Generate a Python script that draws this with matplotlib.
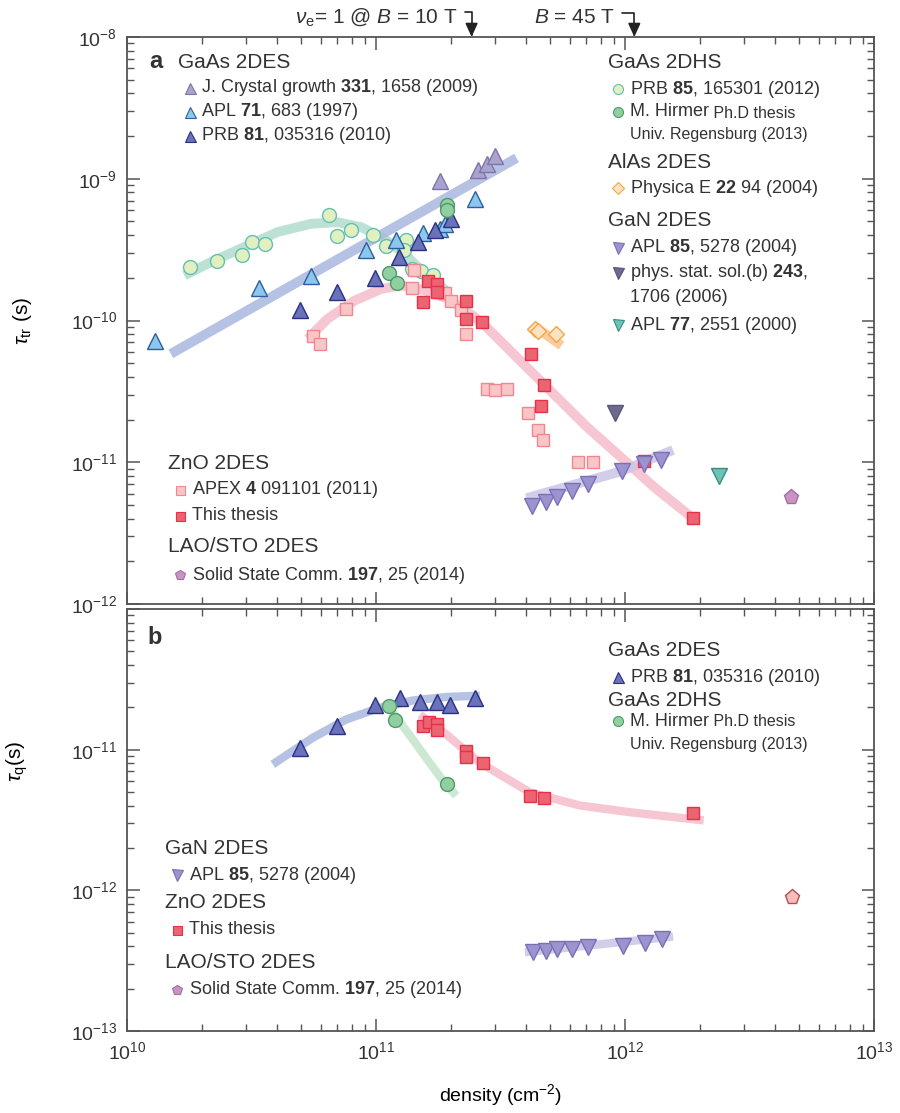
import numpy as np
import matplotlib
matplotlib.use("Agg")
import matplotlib.pyplot as plt
from matplotlib.ticker import LogLocator, NullFormatter

# --- Data (density in cm^-2, lifetime in s) ---
# panel a: transport lifetime tau_tr
GAAS_JCG_N = [1.80e11, 2.57e11, 2.78e11, 3.00e11]
GAAS_JCG_TAU = [9.63e-10, 1.16e-9, 1.28e-9, 1.44e-9]

GAAS_APL71_N = [1.30e10, 3.38e10, 5.48e10, 9.12e10, 1.20e11, 1.54e11, 1.80e11, 1.89e11, 2.49e11]
GAAS_APL71_TAU = [7.22e-11, 1.70e-10, 2.05e-10, 3.15e-10, 3.71e-10, 4.13e-10, 4.44e-10, 4.77e-10, 7.22e-10]

GAAS_PRB81_N = [4.97e10, 6.98e10, 9.95e10, 1.24e11, 1.47e11, 1.73e11, 2.00e11]
GAAS_PRB81_TAU = [1.19e-10, 1.585e-10, 2.0e-10, 2.8e-10, 3.57e-10, 4.32e-10, 5.22e-10]

GAAS_BAND_N = [1.50e10, 3.67e11]
GAAS_BAND_TAU = [5.82e-11, 1.40e-9]

HOLE_PRB85_N = [1.79e10, 2.30e10, 2.90e10, 3.19e10, 3.58e10, 6.50e10, 6.98e10, 7.94e10,
                9.70e10, 1.10e11, 1.32e11, 1.30e11, 1.39e11, 1.51e11, 1.69e11]
HOLE_PRB85_TAU = [2.38e-10, 2.65e-10, 2.91e-10, 3.57e-10, 3.48e-10, 5.51e-10, 3.92e-10, 4.32e-10,
                  3.98e-10, 3.38e-10, 3.71e-10, 3.15e-10, 2.29e-10, 2.23e-10, 2.11e-10]
HOLE_BAND_N = [1.70e10, 2.17e10, 2.96e10, 4.03e10, 5.48e10, 7.01e10, 8.71e10, 1.08e11, 1.30e11, 1.57e11, 1.91e11]
HOLE_BAND_TAU = [2.08e-10, 2.58e-10, 3.30e-10, 4.21e-10, 4.81e-10, 4.94e-10, 4.56e-10, 3.77e-10, 2.96e-10, 2.13e-10, 1.63e-10]

HIRMER_N = [1.13e11, 1.21e11, 1.93e11, 1.93e11]
HIRMER_TAU = [2.17e-10, 1.85e-10, 6.55e-10, 6.04e-10]

ALAS_N = [4.37e11, 4.48e11, 5.26e11]
ALAS_TAU = [8.71e-11, 8.41e-11, 7.98e-11]
ALAS_BAND_N = [4.28e11, 5.56e11]
ALAS_BAND_TAU = [9.23e-11, 6.67e-11]

GAN_N = [4.25e11, 4.81e11, 5.34e11, 6.14e11, 7.11e11, 9.75e11, 1.19e12, 1.39e12]
GAN_TAU = [4.89e-12, 5.21e-12, 5.68e-12, 6.22e-12, 7.05e-12, 8.70e-12, 9.73e-12, 1.04e-11]
GAN_BAND_N = [4.02e11, 9.55e11, 1.56e12]
GAN_BAND_TAU = [5.58e-12, 8.59e-12, 1.22e-11]

GAN_PSS_N = [9.12e11]
GAN_PSS_TAU = [2.23e-11]
GAN_APL77_N = [2.39e12]
GAN_APL77_TAU = [8.0e-12]

ZNO_APEX_N = [5.57e10, 5.98e10, 7.59e10, 1.42e11, 1.39e11, 1.89e11, 2.00e11, 2.19e11, 2.29e11,
              2.80e11, 3.00e11, 3.37e11, 4.08e11, 4.48e11, 4.69e11, 6.49e11, 7.46e11]
ZNO_APEX_TAU = [7.75e-11, 6.84e-11, 1.197e-10, 2.28e-10, 1.70e-10, 1.56e-10, 1.38e-10, 1.19e-10, 8.05e-11,
                3.30e-11, 3.24e-11, 3.30e-11, 2.23e-11, 1.69e-11, 1.435e-11, 9.96e-12, 9.96e-12]
ZNO_THESIS_N = [1.62e11, 1.75e11, 1.75e11, 1.54e11, 2.29e11, 2.29e11, 2.67e11, 4.18e11, 4.72e11, 4.58e11, 1.19e12, 1.88e12]
ZNO_THESIS_TAU = [1.915e-10, 1.815e-10, 1.585e-10, 1.347e-10, 1.369e-10, 1.028e-10, 9.73e-11, 5.83e-11,
                  3.53e-11, 2.50e-11, 1.02e-11, 4.05e-12]
ZNO_BAND_N = [5.32e10, 6.40e10, 8.19e10, 1.05e11, 1.26e11, 1.57e11, 1.95e11, 2.49e11, 2.78e11,
              3.78e11, 5.15e11, 7.02e11, 9.55e11, 1.30e12, 1.94e12]
ZNO_BAND_TAU = [7.43e-11, 1.03e-10, 1.38e-10, 1.67e-10, 1.77e-10, 1.63e-10, 1.42e-10, 1.06e-10, 8.97e-11,
                5.24e-11, 3.05e-11, 1.78e-11, 1.10e-11, 6.75e-12, 3.83e-12]

LAO_N = [4.66e12]
LAO_TAU = [5.67e-12]

# panel b: quantum lifetime tau_q
Q_PRB81_N = [4.97e10, 6.98e10, 9.93e10, 1.25e11, 1.50e11, 1.75e11, 1.98e11, 2.49e11]
Q_PRB81_TAU = [1.03e-11, 1.47e-11, 2.09e-11, 2.33e-11, 2.17e-11, 2.17e-11, 2.09e-11, 2.33e-11]
Q_PRB81_BAND_N = [3.85e10, 5.57e10, 7.59e10, 1.03e11, 1.41e11, 1.92e11, 2.61e11]
Q_PRB81_BAND_TAU = [7.87e-12, 1.215e-11, 1.64e-11, 1.98e-11, 2.24e-11, 2.37e-11, 2.42e-11]

Q_HIRMER_N = [1.13e11, 1.19e11, 1.93e11]
Q_HIRMER_TAU = [2.03e-11, 1.62e-11, 5.69e-12]
Q_HIRMER_BAND_N = [1.13e11, 1.36e11, 1.64e11, 1.86e11, 2.10e11]
Q_HIRMER_BAND_TAU = [1.98e-11, 1.28e-11, 8.1e-12, 6.0e-12, 4.71e-12]

Q_ZNO_N = [1.55e11, 1.64e11, 1.75e11, 1.75e11, 2.30e11, 2.30e11, 2.69e11, 4.17e11, 4.72e11, 1.88e12]
Q_ZNO_TAU = [1.48e-11, 1.57e-11, 1.53e-11, 1.37e-11, 9.8e-12, 8.93e-12, 8.09e-12, 4.71e-12, 4.51e-12, 3.55e-12]
Q_ZNO_BAND_N = [1.50e11, 1.92e11, 2.61e11, 4.15e11, 6.59e11, 1.05e12, 2.07e12]
Q_ZNO_BAND_TAU = [1.77e-11, 1.28e-11, 8.09e-12, 4.97e-12, 4.01e-12, 3.59e-12, 3.14e-12]

Q_GAN_N = [4.26e11, 4.81e11, 5.31e11, 6.11e11, 7.12e11, 9.79e11, 1.20e12, 1.41e12]
Q_GAN_TAU = [3.63e-13, 3.69e-13, 3.84e-13, 3.84e-13, 3.94e-13, 4.0e-13, 4.22e-13, 4.51e-13]
Q_GAN_BAND_N = [3.96e11, 1.56e12]
Q_GAN_BAND_TAU = [3.63e-13, 4.69e-13]

Q_LAO_N = [4.69e12]
Q_LAO_TAU = [8.97e-13]

# nu = 1 densities marked on top
DENS_10T = 2.42e11
DENS_45T = 1.09e12

# --- Style ---
FIG_W, FIG_H = 900, 1113
DPI = 100
TEXT_COLOR = "#333333"
AXIS_COLOR = "#555555"
HEAD_SIZE = 15
ENTRY_SIZE = 13
SMALL_SIZE = 11.5
BAND_LW_A = 7
BAND_LW_B = 6

# marker styles: (marker, face, edge, size)
ST_JCG = ("^", "#aaa3cf", "#7d74a8", 11)
ST_APL71 = ("^", "#8cc8ee", "#2f5f9a", 11)
ST_PRB81 = ("^", "#6a72bb", "#2b3080", 11)
ST_PRB85 = ("o", "#e2efbf", "#62c0b4", 10)
ST_HIRMER = ("o", "#90cfa0", "#4f9a6a", 10)
ST_ALAS = ("D", "#fde3c4", "#f5a446", 8)
ST_GAN = ("v", "#9c94cf", "#7a70b8", 11)
ST_PSS = ("v", "#6d6a90", "#5a5678", 11)
ST_APL77 = ("v", "#6cc4b6", "#3a8a80", 11)
ST_APEX = ("s", "#f9c6c8", "#f0868f", 9)
ST_THESIS = ("s", "#ea6472", "#e8304a", 9)
ST_LAO = ("p", "#c993c6", "#a070a0", 11)
ST_LAO_B = ("p", "#f7bcbc", "#b05050", 11)

BAND_BLUE = "#aab8de"
BAND_TEAL = "#b2dccd"
BAND_PINK = "#f5bccb"
BAND_ORANGE = "#f7c48c"
BAND_LAV = "#cbc6e6"
BAND_GREEN = "#c4e5cc"

plt.rcParams["font.family"] = ["Liberation Sans", "DejaVu Sans"]
plt.rcParams["mathtext.fontset"] = "custom"
plt.rcParams["mathtext.rm"] = "Liberation Sans"
plt.rcParams["mathtext.it"] = "Liberation Sans:italic"
plt.rcParams["mathtext.bf"] = "Liberation Sans:bold"
plt.rcParams["text.color"] = TEXT_COLOR


def fx(px):
    return px / FIG_W


def fy(py):
    return 1 - py / FIG_H


def points(ax, n, tau, style, z=3):
    m, face, edge, ms = style
    ax.plot(n, tau, ls="none", marker=m, ms=ms, mfc=face, mec=edge, mew=1.0, zorder=z)


def band(ax, n, tau, color, lw):
    ax.plot(n, tau, color=color, lw=lw, alpha=0.85, solid_capstyle="butt",
            solid_joinstyle="round", zorder=1)


def key(fig, x, y, style):
    m, face, edge, ms = style
    fig.add_artist(plt.Line2D([fx(x)], [fy(y)], ls="none", marker=m, ms=ms * 0.72,
                              mfc=face, mec=edge, mew=0.8, transform=fig.transFigure))


def put(fig, x, y, s, size=ENTRY_SIZE, **kw):
    return fig.text(fx(x), fy(y), s, fontsize=size, va="center", ha="left", **kw)


def style_axis(ax):
    ax.set_xscale("log")
    ax.set_yscale("log")
    ax.set_xlim(1e10, 1e13)
    ax.xaxis.set_minor_locator(LogLocator(base=10, subs=np.arange(2, 10), numticks=20))
    ax.yaxis.set_minor_locator(LogLocator(base=10, subs=np.arange(2, 10), numticks=20))
    ax.xaxis.set_minor_formatter(NullFormatter())
    ax.yaxis.set_minor_formatter(NullFormatter())
    ax.tick_params(which="both", direction="in", top=True, right=True, color=AXIS_COLOR,
                   labelsize=14, labelcolor=TEXT_COLOR, pad=7)
    ax.tick_params(which="major", length=9, width=1.1)
    ax.tick_params(which="minor", length=5, width=1.0)
    for sp in ax.spines.values():
        sp.set_color(AXIS_COLOR)
        sp.set_linewidth(1.3)


def main():
    fig = plt.figure(figsize=(FIG_W / DPI, FIG_H / DPI), dpi=DPI)
    ax_a = fig.add_axes([fx(127), fy(604), 747 / FIG_W, 567 / FIG_H])
    ax_b = fig.add_axes([fx(127), fy(1031), 747 / FIG_W, 422 / FIG_H])

    # ---------- panel a ----------
    style_axis(ax_a)
    ax_a.set_ylim(1e-12, 1e-8)
    ax_a.tick_params(labelbottom=False)
    band(ax_a, HOLE_BAND_N, HOLE_BAND_TAU, BAND_TEAL, BAND_LW_A)
    band(ax_a, GAAS_BAND_N, GAAS_BAND_TAU, BAND_BLUE, BAND_LW_A)
    band(ax_a, ZNO_BAND_N, ZNO_BAND_TAU, BAND_PINK, BAND_LW_A)
    band(ax_a, ALAS_BAND_N, ALAS_BAND_TAU, BAND_ORANGE, BAND_LW_A)
    band(ax_a, GAN_BAND_N, GAN_BAND_TAU, BAND_LAV, BAND_LW_A)

    points(ax_a, HOLE_PRB85_N, HOLE_PRB85_TAU, ST_PRB85)
    points(ax_a, GAAS_APL71_N, GAAS_APL71_TAU, ST_APL71)
    points(ax_a, GAAS_PRB81_N, GAAS_PRB81_TAU, ST_PRB81)
    points(ax_a, GAAS_JCG_N, GAAS_JCG_TAU, ST_JCG)
    points(ax_a, HIRMER_N, HIRMER_TAU, ST_HIRMER)
    points(ax_a, ZNO_APEX_N, ZNO_APEX_TAU, ST_APEX)
    points(ax_a, ZNO_THESIS_N, ZNO_THESIS_TAU, ST_THESIS)
    points(ax_a, ALAS_N, ALAS_TAU, ST_ALAS)
    points(ax_a, GAN_N, GAN_TAU, ST_GAN)
    points(ax_a, GAN_PSS_N, GAN_PSS_TAU, ST_PSS)
    points(ax_a, GAN_APL77_N, GAN_APL77_TAU, ST_APL77)
    points(ax_a, LAO_N, LAO_TAU, ST_LAO)

    ax_a.set_ylabel(r"$\tau_{\mathrm{tr}}$ (s)", fontsize=15)
    ax_a.yaxis.set_label_coords(-0.125, 0.5)

    # nu = 1 markers above the top axis
    arrow = dict(arrowstyle="-|>,head_length=0.55,head_width=0.25", color="#222222", lw=1.2,
                 connectionstyle="angle,angleA=0,angleB=90,rad=0", relpos=(1.0, 0.75),
                 shrinkA=3, shrinkB=0)
    ax_a.annotate(r"$\nu_{\mathrm{e}}$= 1 @ $B$ = 10 T", xy=(DENS_10T, 1.0),
                  xycoords=("data", "axes fraction"), xytext=(-10, 14), textcoords="offset points",
                  ha="right", va="center", fontsize=15, arrowprops=arrow, annotation_clip=False)
    ax_a.annotate(r"$B$ = 45 T", xy=(DENS_45T, 1.0),
                  xycoords=("data", "axes fraction"), xytext=(-14, 14), textcoords="offset points",
                  ha="right", va="center", fontsize=15, arrowprops=arrow, annotation_clip=False)

    # legend, upper left
    put(fig, 149, 62, "a", size=17, fontweight="bold")
    put(fig, 178, 62, "GaAs 2DES", size=HEAD_SIZE)
    key(fig, 190, 88, ST_JCG)
    put(fig, 201, 88, r"J. Crystal growth $\mathbf{331}$, 1658 (2009)")
    key(fig, 190, 112, ST_APL71)
    put(fig, 201, 112, r"APL $\mathbf{71}$, 683 (1997)")
    key(fig, 190, 136, ST_PRB81)
    put(fig, 201, 136, r"PRB $\mathbf{81}$, 035316 (2010)")

    # legend, upper right
    put(fig, 608, 63, "GaAs 2DHS", size=HEAD_SIZE)
    key(fig, 618, 89, ST_PRB85)
    put(fig, 630, 89, r"PRB $\mathbf{85}$, 165301 (2012)")
    key(fig, 618, 112, ST_HIRMER)
    t = put(fig, 630, 112, "M. Hirmer")
    ax_a.annotate(" Ph.D thesis", xy=(1, 0), xycoords=t, va="bottom", ha="left", fontsize=SMALL_SIZE)
    put(fig, 630, 135, "Univ. Regensburg (2013)", size=SMALL_SIZE)
    put(fig, 608, 163, "AlAs 2DES", size=HEAD_SIZE)
    key(fig, 618, 188, ST_ALAS)
    put(fig, 630, 188, r"Physica E $\mathbf{22}$ 94 (2004)")
    put(fig, 608, 221, "GaN 2DES", size=HEAD_SIZE)
    key(fig, 618, 248, ST_GAN)
    put(fig, 630, 248, r"APL $\mathbf{85}$, 5278 (2004)")
    key(fig, 618, 273, ST_PSS)
    put(fig, 630, 273, r"phys. stat. sol.(b) $\mathbf{243}$,")
    put(fig, 630, 298, "1706 (2006)")
    key(fig, 618, 325, ST_APL77)
    put(fig, 630, 325, r"APL $\mathbf{77}$, 2551 (2000)")

    # legend, lower left
    put(fig, 168, 464, "ZnO 2DES", size=HEAD_SIZE)
    key(fig, 180, 490, ST_APEX)
    put(fig, 192, 490, r"APEX $\mathbf{4}$ 091101 (2011)")
    key(fig, 180, 516, ST_THESIS)
    put(fig, 192, 516, "This thesis")
    put(fig, 168, 547, "LAO/STO 2DES", size=HEAD_SIZE)
    key(fig, 180, 575, ST_LAO)
    put(fig, 192, 575, r"Solid State Comm. $\mathbf{197}$, 25 (2014)")

    # ---------- panel b ----------
    style_axis(ax_b)
    ax_b.set_ylim(1e-13, 1e-10)
    ax_b.set_yticks([1e-13, 1e-12, 1e-11, 1e-10],
                    labels=[r"$10^{-13}$", r"$10^{-12}$", r"$10^{-11}$", ""])
    band(ax_b, Q_PRB81_BAND_N, Q_PRB81_BAND_TAU, BAND_BLUE, BAND_LW_B)
    band(ax_b, Q_HIRMER_BAND_N, Q_HIRMER_BAND_TAU, BAND_GREEN, BAND_LW_B)
    band(ax_b, Q_ZNO_BAND_N, Q_ZNO_BAND_TAU, BAND_PINK, BAND_LW_B)
    band(ax_b, Q_GAN_BAND_N, Q_GAN_BAND_TAU, BAND_LAV, BAND_LW_B)

    points(ax_b, Q_PRB81_N, Q_PRB81_TAU, ST_PRB81)
    points(ax_b, Q_HIRMER_N, Q_HIRMER_TAU, ST_HIRMER)
    points(ax_b, Q_ZNO_N, Q_ZNO_TAU, ST_THESIS)
    points(ax_b, Q_GAN_N, Q_GAN_TAU, ST_GAN)
    points(ax_b, Q_LAO_N, Q_LAO_TAU, ST_LAO_B)

    ax_b.set_ylabel(r"$\tau_{\mathrm{q}}$(s)", fontsize=15)
    ax_b.yaxis.set_label_coords(-0.13, 0.64)
    ax_b.set_xlabel(r"density (cm$^{-2}$)", fontsize=14, labelpad=14)

    put(fig, 147, 637, "b", size=17, fontweight="bold")
    put(fig, 608, 650, "GaAs 2DES", size=HEAD_SIZE)
    key(fig, 618, 677, ST_PRB81)
    put(fig, 630, 677, r"PRB $\mathbf{81}$, 035316 (2010)")
    put(fig, 608, 700, "GaAs 2DHS", size=HEAD_SIZE)
    key(fig, 618, 721, ST_HIRMER)
    t = put(fig, 630, 721, "M. Hirmer")
    ax_b.annotate(" Ph.D thesis", xy=(1, 0), xycoords=t, va="bottom", ha="left", fontsize=SMALL_SIZE)
    put(fig, 630, 745, "Univ. Regensburg (2013)", size=SMALL_SIZE)

    put(fig, 165, 848, "GaN 2DES", size=HEAD_SIZE)
    key(fig, 177, 875, ST_GAN)
    put(fig, 189, 875, r"APL $\mathbf{85}$, 5278 (2004)")
    put(fig, 165, 903, "ZnO 2DES", size=HEAD_SIZE)
    key(fig, 177, 930, ST_THESIS)
    put(fig, 189, 930, "This thesis")
    put(fig, 165, 962, "LAO/STO 2DES", size=HEAD_SIZE)
    key(fig, 177, 990, ST_LAO)
    put(fig, 189, 990, r"Solid State Comm. $\mathbf{197}$, 25 (2014)")

    fig.savefig("out.png", dpi=DPI)


if __name__ == "__main__":
    main()
